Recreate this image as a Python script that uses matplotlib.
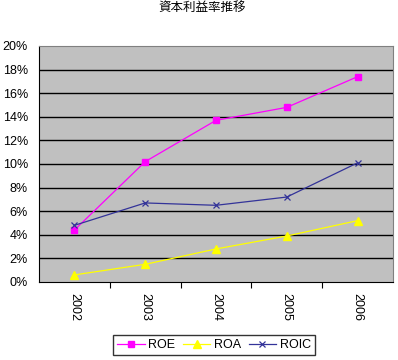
import matplotlib
matplotlib.use("Agg")
import matplotlib.pyplot as plt
from matplotlib.ticker import FuncFormatter

plt.rcParams['font.family'] = ['Liberation Sans', 'Noto Sans CJK JP', 'DejaVu Sans']

# data (percent)
years = ["2002", "2003", "2004", "2005", "2006"]
roe = [4.4, 10.2, 13.7, 14.8, 17.4]
roa = [0.6, 1.5, 2.8, 3.9, 5.2]
roic = [4.8, 6.7, 6.5, 7.2, 10.1]
yticks = list(range(0, 21, 2))

fig = plt.figure(figsize=(3.98, 3.60), dpi=100)
ax = fig.add_axes([39/398, 78/360, 354/398, 236/360])
ax.set_facecolor('#C0C0C0')

x = list(range(len(years)))
ax.plot(x, roe, color='#FF00FF', lw=0.9, marker='s', ms=5, label='ROE')
ax.plot(x, roa, color='#FFFF00', lw=0.9, marker='^', ms=6, label='ROA')
ax.plot(x, roic, color='#333399', lw=0.9, marker='x', ms=4, mew=0.9, label='ROIC')

ax.set_xlim(-0.5, len(years) - 0.5)
ax.set_ylim(0, 20)
ax.set_yticks(yticks)
ax.yaxis.set_major_formatter(FuncFormatter(lambda v, p: "%d%%" % v))
ax.tick_params(axis='y', length=0, labelsize=9, pad=8)
for v in yticks[1:-1]:
    ax.axhline(v, color='black', lw=1, zorder=1)

# category boundary ticks
ax.set_xticks([i + 0.5 for i in x[:-1]])
ax.set_xticklabels([])
ax.tick_params(axis='x', which='major', length=4, direction='out', color='black')
ax.set_xticks(x, minor=True)
ax.set_xticklabels(years, minor=True, rotation=270, fontsize=9)
ax.tick_params(axis='x', which='minor', length=0, pad=8)

for s in ['top', 'right']:
    ax.spines[s].set_color('#808080')
for s in ['left', 'bottom']:
    ax.spines[s].set_color('black')

fig.text(0.508, 0.978, "資本利益率推移", ha='center', va='center', fontsize=9,
         family=['Noto Sans CJK JP'])

leg = fig.legend(loc='center', bbox_to_anchor=(0.538, 0.042), ncol=3, fontsize=9,
                 frameon=True, fancybox=False, edgecolor='black', handlelength=2.2,
                 columnspacing=0.6, handletextpad=0.3, borderpad=0.3)
leg.get_frame().set_linewidth(1)

fig.savefig("out.png", dpi=100)
